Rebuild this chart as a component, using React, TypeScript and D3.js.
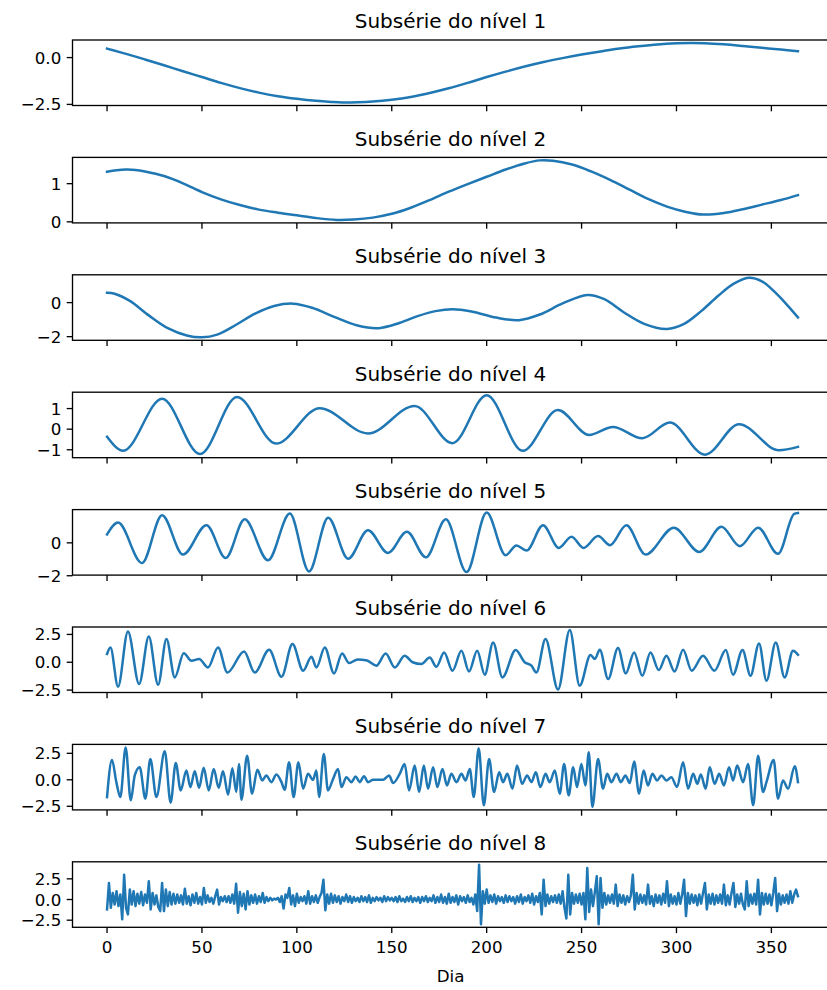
import React from 'react';
import * as d3 from 'd3';

// [day, value] readings for the smoother levels
const level1: [number, number][] = [[0,0.48],[10,0.2],[20,-0.1],[30,-0.41],[40,-0.73],[50,-1.04],[60,-1.35],[70,-1.63],[80,-1.87],[90,-2.06],[100,-2.2],[110,-2.31],[118,-2.37],[124,-2.4],[132,-2.39],[140,-2.35],[150,-2.25],[160,-2.1],[170,-1.89],[180,-1.64],[190,-1.35],[200,-1.04],[210,-0.75],[220,-0.48],[230,-0.24],[240,-0.03],[250,0.16],[260,0.33],[270,0.48],[280,0.6],[290,0.7],[300,0.76],[307,0.78],[315,0.77],[325,0.71],[335,0.62],[345,0.52],[355,0.43],[364,0.34]];

const level2: [number, number][] = [[0,1.31],[5,1.35],[10,1.37],[15,1.36],[20,1.32],[30,1.2],[40,1.01],[50,0.78],[60,0.59],[70,0.44],[80,0.32],[90,0.24],[100,0.17],[110,0.1],[121,0.05],[130,0.06],[140,0.11],[150,0.21],[160,0.37],[170,0.57],[180,0.79],[190,0.99],[200,1.18],[210,1.37],[220,1.53],[228,1.61],[235,1.6],[245,1.5],[255,1.32],[265,1.1],[275,0.85],[285,0.6],[295,0.4],[305,0.26],[314,0.19],[325,0.23],[335,0.33],[345,0.45],[355,0.57],[364,0.7]];

const level3: [number, number][] = [[0,0.58],[4,0.52],[12,0.1],[22,-0.75],[32,-1.5],[42,-1.93],[50,-2.04],[58,-1.88],[68,-1.3],[78,-0.65],[88,-0.2],[98,-0.06],[108,-0.3],[120,-0.85],[132,-1.35],[143,-1.5],[154,-1.2],[164,-0.78],[173,-0.5],[182,-0.39],[192,-0.52],[205,-0.88],[217,-1.03],[228,-0.7],[240,-0.05],[253,0.45],[262,0.2],[272,-0.55],[283,-1.25],[295,-1.55],[304,-1.25],[313,-0.5],[322,0.4],[330,1.1],[338,1.46],[345,1.25],[352,0.6],[358,-0.1],[364,-0.87]];

const level4: [number, number][] = [[0,-0.37],[8.5,-1.05],[29,1.48],[49,-1.21],[68.5,1.56],[89,-0.7],[112,1.02],[137.5,-0.21],[162,1.13],[182,-0.68],[200,1.65],[219,-1.05],[237.5,0.93],[254,-0.28],[266.5,0.11],[282,-0.44],[296.5,0.32],[315,-1.24],[333,0.24],[354,-1.02],[364,-0.86]];

const level5: [number, number][] = [[0,0.51],[5.8,1.23],[18.4,-1.23],[29,1.68],[40,-0.71],[52.4,1.07],[62.5,-0.92],[72.5,1.43],[84.8,-1.06],[96.3,1.78],[106.4,-1.74],[116.5,1.53],[127,-0.96],[137.5,0.76],[148,-0.61],[158,0.67],[168,-0.88],[178.5,1.43],[189.4,-1.78],[200,1.84],[210,-0.75],[215.7,-0.16],[221,-0.47],[229.7,1.07],[238,-0.31],[244.7,0.37],[251,-0.31],[258.7,0.41],[265,-0.14],[273.6,1.07],[283.7,-0.71],[298.6,0.92],[312,-0.55],[323.7,0.98],[333.4,-0.2],[343,0.92],[353.5,-0.67],[362,1.76],[364,1.82]];

const level6: [number, number][] = [[0,0.74],[1.8,1.33],[5.8,-2.2],[11,2.77],[16.9,-1.96],[22,2.32],[26.9,-2.02],[31.3,2.08],[35.7,-1.36],[40.4,0.82],[44.5,0.13],[48.5,0.29],[53.2,-0.47],[58.5,1.33],[63.4,-0.92],[72.2,0.97],[77.8,-0.92],[85.4,1.12],[91.9,-1.3],[97.7,1.63],[103.3,-0.76],[107.7,0.49],[110.3,-0.47],[114.7,1.33],[119.6,-1.0],[123.8,0.79],[127.5,-0.07],[132,0.25],[137,0.15],[141.9,-0.31],[146.8,0.79],[151.6,-0.47],[156.8,0.58],[161,0.0],[165.6,-0.16],[170,0.43],[173.5,-0.4],[177.6,0.88],[182,-0.76],[186.7,1.03],[190.7,-0.83],[195,1.03],[199,-1.12],[203.4,1.78],[208.3,-1.36],[215.3,1.1],[220,0.0],[223.6,-0.31],[226.2,-0.92],[231,2.08],[237.6,-2.45],[243.8,2.9],[249,-2.11],[254.7,0.65],[257,0.29],[259.6,1.12],[264,-1.51],[269.2,1.28],[273.3,-1.0],[277.7,0.88],[282,-1.21],[286.3,0.88],[290.7,-0.7],[294.7,0.58],[299,-0.83],[303.5,1.12],[308,-0.76],[314,0.58],[320,-0.76],[326,1.1],[329.8,-1.12],[334.8,1.1],[339,-1.21],[343.5,1.69],[347.4,-1.66],[352.3,1.78],[357,-1.36],[361.4,1.03],[364,0.67]];

const level7: [number, number][] = [[0,-1.63],[2.6,1.88],[4.9,-0.22],[7,-1.63],[9.8,3.06],[12.5,-1.94],[14.6,0.41],[17.2,1.19],[20.2,-1.78],[22.8,1.97],[26,-1.63],[30.4,2.69],[33.5,-2.16],[36.2,1.59],[38.8,-1.0],[41.8,0.88],[43.9,-0.69],[46.2,0.81],[48.5,-0.75],[50.9,1.13],[53.6,-1.0],[56.2,1.03],[58.8,-0.75],[61.1,0.81],[63.8,-1.41],[66,1.09],[68.1,-1.16],[69.5,1.5],[70.8,-1.88],[73.8,2.28],[76.4,-1.31],[79.2,0.94],[81.8,-0.06],[83.9,0.41],[86.6,-0.22],[89.2,0.5],[91.9,-0.22],[93.6,-0.94],[95.9,1.66],[98.3,-1.63],[100.8,1.66],[103.3,-0.84],[105.9,0.56],[108.5,0],[110.3,0.88],[111.7,-1.63],[114.2,2.44],[116.4,-1.0],[119.1,0.09],[121.7,1.03],[123.5,-0.69],[126.1,0.25],[128.7,-0.22],[131,0.31],[133.1,-0.22],[135.4,0.34],[137.5,-0.22],[140.1,0],[145.4,0],[148.6,0.41],[150.7,-0.31],[154.2,0.56],[156.8,1.5],[159.1,-1.0],[162.1,1.34],[164.4,-1.16],[166.9,1.34],[169.1,-0.84],[171.8,1.19],[174,-0.69],[176.7,1.03],[179.1,-0.53],[181.4,0.56],[184.1,-0.22],[186.7,0.56],[188.9,-0.06],[191.1,1.03],[193.2,-1.63],[195.8,2.97],[198.5,-2.41],[201.3,1.97],[203.9,-1.16],[206.6,0.72],[208.6,-0.22],[210.9,0.56],[213.6,-0.84],[216,1.34],[218.7,-0.38],[221.3,0.41],[223.6,-0.22],[225.9,0.72],[228.3,-0.69],[231,0.56],[233.2,-0.22],[235.9,0.88],[238.5,-1.31],[240.8,1.5],[243.2,-1.47],[245.6,1.19],[247.6,-0.69],[249.9,1.5],[252,-0.53],[253.8,2.59],[255.7,-2.56],[258.7,1.97],[261.3,-0.84],[263.5,0.56],[265.7,-0.22],[268.4,0.56],[270.7,-0.22],[273.1,0.41],[275.4,-0.31],[277.7,1.72],[280.3,-1.31],[282.7,0.88],[285,-0.53],[287.3,0.56],[289.8,-0.06],[292.1,0.41],[294.7,-0.06],[297.3,0.25],[300.3,-0.69],[303.5,1.66],[306.1,-0.84],[308.8,0.56],[311,-0.38],[312.8,0.5],[315.4,-0.84],[317.5,1.19],[320.1,-0.38],[322.5,0.56],[325,-0.53],[327.7,1.19],[329.8,-0.06],[332,1.34],[335.1,-0.22],[337.7,1.5],[340.4,-2.41],[343,2.28],[345.6,-1.16],[347.4,-0.22],[351.2,1.88],[353.5,-1.78],[356.1,-0.06],[358.8,-0.84],[362.3,1.28],[364,-0.22]];

// daily values (day = index) for the finest level
const level8: number[] = [
  -1.2, 2.0, -1.0, 0.8, -0.6, 1.0, -0.8, 0.6, -2.4, 3.0,
  -1.0, -1.8, 1.2, -0.6, 1.0, -0.8, 0.7, -0.5, 0.9, -0.7,
  0.6, -0.4, 2.2, -1.2, 0.8, -0.6, 0.5, -0.9, -1.4, 2.0,
  -1.4, 1.2, -0.8, 0.9, -0.6, 0.7, -0.5, 0.6, -0.4, 0.5,
  -0.6, 1.3, -0.5, 0.4, -0.7, 0.6, -0.4, 0.8, -0.5, 0.3,
  -0.6, 1.4, -0.4, 0.5, -0.3, 0.2, -0.5, 0.4, 1.2, -0.6,
  0.3, -0.2, 0.4, -0.3, 0.4, -0.4, 0.6, -0.5, 1.9, -1.6,
  0.9, -0.8, 0.7, -1.2, 1.0, -0.6, 0.5, -0.4, 0.6, -0.5,
  0.4, -0.3, 0.8, -0.4, 0.3, -0.2, 0.2, -0.1, 0.1, 0.0,
  0.2, -0.3, 0.4, -1.1, 0.6, 0.2, 1.4, -0.6, 0.5, -0.8,
  0.7, -0.4, 0.3, -0.2, 0.4, -0.5, 1.0, -0.5, 0.4, -0.3,
  0.5, -0.4, 0.3, 0.8, 2.4, -1.3, 0.6, -0.5, 0.7, -0.4,
  0.5, -0.3, 0.4, -0.5, 0.3, -0.2, 0.6, -0.3, 0.4, -0.4,
  0.3, -0.2, 0.2, -0.3, 0.4, -0.2, 0.3, -0.3, 0.5, -0.4,
  0.2, -0.2, 0.3, -0.1, 0.2, -0.3, 0.4, -0.2, 0.3, -0.1,
  0.2, -0.2, 0.3, -0.3, 0.4, -0.2, 0.1, -0.3, 0.3, -0.2,
  0.4, -0.3, 0.2, -0.2, 0.3, -0.4, 0.3, -0.2, 0.4, -0.3,
  0.2, -0.2, 0.5, -0.4, 0.3, -0.3, 0.6, -0.4, 0.3, -0.5,
  0.7, -0.4, 0.3, -0.3, 0.5, -0.6, 0.4, -0.2, 0.3, -0.4,
  0.5, -0.3, 0.2, -0.6, 0.6, -1.4, 4.2, -3.0, 1.0, -0.5,
  1.2, -0.4, 0.5, -0.3, 0.6, -0.5, 0.4, -0.2, 0.3, -0.4,
  0.5, -0.3, 0.4, -0.2, 0.3, -0.5, 0.4, -0.3, 0.6, -0.5,
  0.3, -0.2, 0.5, -0.4, 0.7, -0.6, 0.4, -0.3, 0.8, -1.8,
  2.4, -0.8, 0.6, -0.5, 0.4, -0.3, 0.5, -0.4, 0.6, -0.5,
  1.0, -1.0, -2.3, 3.0, -1.8, 0.8, -0.5, 0.6, -0.4, 0.7,
  -0.6, 0.8, -2.4, 3.8, -1.5, 1.2, -0.8, 0.9, 2.8, -3.0,
  2.6, -1.0, 0.8, -0.6, 0.5, -0.4, 0.6, -0.5, 1.8, -0.8,
  0.6, -0.4, 0.5, -0.6, 0.4, -0.3, 0.5, 3.0, -1.2, 0.8,
  -0.5, 0.6, -0.4, 0.5, -0.6, 1.8, -0.5, 0.4, -0.8, 0.6,
  -0.4, 0.5, -0.6, 0.7, -0.4, 2.2, -0.8, 0.6, -0.5, 0.4,
  -0.6, 0.8, -0.5, 0.6, 2.4, -2.0, 0.8, -0.5, 0.6, -0.4,
  0.5, -0.7, 0.6, -0.5, 0.8, 2.0, -1.2, 0.6, -0.5, 0.7,
  -0.6, 0.5, -0.4, 0.6, -0.5, 1.8, -0.7, 0.5, -0.6, 0.8,
  2.0, -0.9, 0.6, -0.5, 0.7, -0.6, -1.2, 2.2, -0.8, 0.6,
  -0.5, 0.7, -0.6, 2.4, -1.8, 0.8, -0.6, 0.7, -0.5, 0.6,
  -0.7, 0.8, 2.6, -1.4, 0.7, -0.6, 0.5, -0.4, 0.6, -0.5,
  1.0, -0.4, 0.6, 1.2, 0.4
];

const titles = [1, 2, 3, 4, 5, 6, 7, 8].map((n) => `Subsérie do nível ${n}`);
const xTicks = [0, 50, 100, 150, 200, 250, 300, 350];
const yTicks: number[][] = [[0, -2.5], [0, 1], [0, -2], [1, 0, -1], [0, -2], [2.5, 0, -2.5], [2.5, 0, -2.5], [2.5, 0, -2.5]];
const yTickLabels: string[][] = [
  ['0.0', '−2.5'], ['0', '1'], ['0', '−2'], ['1', '0', '−1'], ['0', '−2'],
  ['2.5', '0.0', '−2.5'], ['2.5', '0.0', '−2.5'], ['2.5', '0.0', '−2.5'],
];
const xLabel = 'Dia';

export default function App() {
  const W = 827, H = 990;
  const left = 72.5, axW = 760, top0 = 40, step = 117.4, axH = 65.5;
  const font = 'DejaVu Sans';
  const blue = '#1f77b4';

  const series: [number, number][][] = [
    level1, level2, level3, level4, level5, level6, level7,
    level8.map((v, i) => [i, v] as [number, number]),
  ];
  const curves = [
    d3.curveCatmullRom, d3.curveCatmullRom, d3.curveCatmullRom,
    d3.curveMonotoneX, d3.curveMonotoneX, d3.curveMonotoneX, d3.curveMonotoneX,
    d3.curveLinear,
  ];

  const xExt = [0, level8.length - 1];
  const xPad = (xExt[1] - xExt[0]) * 0.05;
  const x = d3.scaleLinear().domain([xExt[0] - xPad, xExt[1] + xPad]).range([left, left + axW]);

  return (
    <svg width={W} height={H} style={{ position: 'absolute', left: 0, top: 0, background: '#fff' }} fontFamily={font}>
      <rect x={0} y={0} width={W} height={H} fill="#fff" />
      {series.map((data, i) => {
        const top = top0 + i * step;
        const ext = d3.extent(data, (d) => d[1]) as [number, number];
        const pad = (ext[1] - ext[0]) * 0.05;
        const y = d3.scaleLinear().domain([ext[0] - pad, ext[1] + pad]).range([top + axH, top]);
        const line = d3.line<[number, number]>()
          .x((d) => x(d[0]))
          .y((d) => y(d[1]))
          .curve(curves[i]);
        const bottom = top + axH;
        return (
          <g key={i}>
            <defs>
              <clipPath id={`clip${i}`}>
                <rect x={left} y={top} width={axW} height={axH} />
              </clipPath>
            </defs>
            <path d={line(data) || ''} fill="none" stroke={blue} strokeWidth={2.5}
              strokeLinejoin="round" strokeLinecap="square" clipPath={`url(#clip${i})`} />
            <rect x={left} y={top} width={axW} height={axH} fill="none" stroke="#000" strokeWidth={1.33} />
            {yTicks[i].map((t, k) => (
              <g key={k}>
                <line x1={left - 5.8} x2={left} y1={y(t)} y2={y(t)} stroke="#000" strokeWidth={1.33} />
                <text x={left - 11.2} y={y(t)} dy="0.36em" textAnchor="end" fontSize={16.7} fill="#000">
                  {yTickLabels[i][k]}
                </text>
              </g>
            ))}
            {xTicks.map((t) => (
              <line key={t} x1={x(t)} x2={x(t)} y1={bottom} y2={bottom + 5.8} stroke="#000" strokeWidth={1.33} />
            ))}
            <text x={left + axW / 2 - 2} y={top - 11.7} textAnchor="middle" fontSize={20} fill="#000">
              {titles[i]}
            </text>
            {i === 7 && xTicks.map((t) => (
              <text key={t} x={x(t)} y={bottom + 26} textAnchor="middle" fontSize={16.7} fill="#000">{t}</text>
            ))}
            {i === 7 && (
              <text x={left + axW / 2 - 2} y={bottom + 55} textAnchor="middle" fontSize={16.7} fill="#000">{xLabel}</text>
            )}
          </g>
        );
      })}
    </svg>
  );
}
